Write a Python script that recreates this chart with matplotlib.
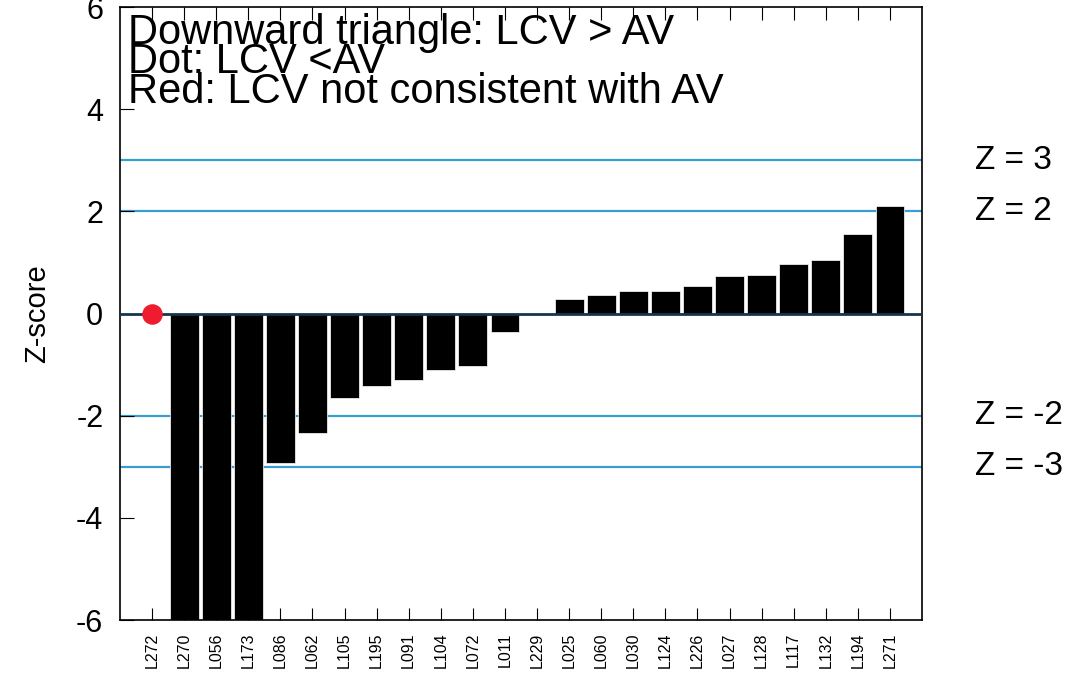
import matplotlib
matplotlib.use("Agg")
import matplotlib.pyplot as plt
import numpy as np

plt.rcParams['font.family'] = ['Liberation Sans', 'DejaVu Sans']
plt.rcParams['axes.unicode_minus'] = False

labs = ["L272", "L270", "L056", "L173", "L086", "L062", "L105", "L195", "L091", "L104",
        "L072", "L011", "L229", "L025", "L060", "L030", "L124", "L226", "L027", "L128",
        "L117", "L132", "L194", "L271"]
zvals = [0.0, -7.5, -7.5, -7.5, -2.92, -2.33, -1.65, -1.42, -1.30, -1.10,
         -1.03, -0.37, 0.0, 0.29, 0.37, 0.45, 0.45, 0.53, 0.73, 0.76,
         0.96, 1.04, 1.55, 2.10]
dot_labels = ["L272"]
dot_vals = [0.0]
ref_lines = [3, 2, -2, -3]
ref_texts = ["Z = 3", "Z = 2", "Z = -2", "Z = -3"]
legend_lines = ["Downward triangle: LCV > AV", "Dot: LCV <AV", "Red: LCV not consistent with AV"]

fig = plt.figure(figsize=(10.89, 6.76), dpi=100)
ax = fig.add_axes([0.1102, 0.0828, 0.7365, 0.9068])
x = np.arange(len(labs))
bar_vals = [v if l not in dot_labels else 0 for l, v in zip(labs, zvals)]
ax.bar(x, bar_vals, width=0.9, color='black', edgecolor='white', linewidth=0.5, zorder=2)
for r in ref_lines:
    ax.axhline(r, color='#3b9ccf', lw=1.6, zorder=1)
ax.axhline(0, color='#17344f', lw=2, zorder=3)
ax.scatter([labs.index(l) for l in dot_labels], dot_vals, s=190, color='#ee1c2e', zorder=4)

ax.set_xlim(-1, len(labs))
ax.set_ylim(-6, 6)
ax.set_yticks([-6, -4, -2, 0, 2, 4, 6])
ax.set_xticks(x)
ax.set_xticklabels(labs, rotation=90, fontsize=11.5)
ax.tick_params(axis='y', labelsize=22, direction='in', length=10, pad=12, right=False)
ax.tick_params(axis='x', direction='in', length=9, top=True, pad=9)
ax.set_ylabel("Z-score", fontsize=21, labelpad=18)
for s in ax.spines.values():
    s.set_linewidth(1.2)

for r, t in zip(ref_lines, ref_texts):
    ax.text(1.0 + 0.066, r, t, transform=ax.get_yaxis_transform(), fontsize=24,
            va='center', ha='left')

ax.text(0.01, 0.991, "\n".join(legend_lines), transform=ax.transAxes, fontsize=30,
        va='top', ha='left', linespacing=0.67, zorder=5)

fig.savefig("out.png", dpi=100)
